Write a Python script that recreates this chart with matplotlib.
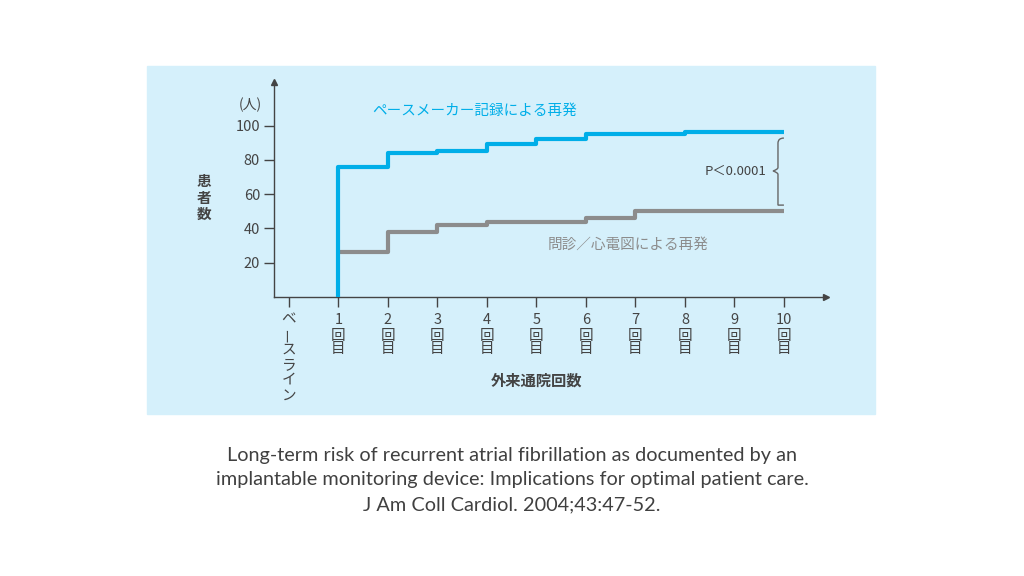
import matplotlib.pyplot as plt
from matplotlib.patches import Rectangle, PathPatch
from matplotlib.path import Path

plt.rcParams['font.family'] = ['Noto Sans CJK JP', 'DejaVu Sans']

# data
visits = [1, 2, 3, 4, 5, 6, 7, 8, 9, 10]
pacemaker = [76, 84, 85, 89, 92, 95, 95, 96, 96, 96]
interview_ecg = [26, 38, 42, 44, 44, 46, 50, 50, 50, 50]
y_ticks = [20, 40, 60, 80, 100]
x_tick_nums = ['1', '2', '3', '4', '5', '6', '7', '8', '9', '10']
baseline_label = ['ベ', 'ー', 'ス', 'ラ', 'イ', 'ン']
caption = ['Long-term risk of recurrent atrial fibrillation as documented by an',
           'implantable monitoring device: Implications for optimal patient care.',
           'J Am Coll Cardiol. 2004;43:47-52.']

blue = '#00aee8'
gray = '#8c8c8c'
dark = '#444444'

fig = plt.figure(figsize=(10.24, 5.76), dpi=100)
fig.patches.append(Rectangle((147/1024, 1-414/576), 728/1024, 348/576,
                             transform=fig.transFigure, color='#d5f0fb', zorder=-5))

ax = fig.add_axes([274/1024, 1-297/576, 552/1024, 215/576])
ax.set_zorder(2)
ax.set_facecolor('none')
ax.set_xlim(-0.3, 10.85)
ax.set_ylim(0, 125.4)
for s in ['top', 'right']:
    ax.spines[s].set_visible(False)
for s in ['left', 'bottom']:
    ax.spines[s].set_color(dark)
    ax.spines[s].set_linewidth(1)
ax.plot(1, 0, '>', color=dark, ms=5, transform=ax.transAxes, clip_on=False)
ax.plot(0, 1, '^', color=dark, ms=5, transform=ax.transAxes, clip_on=False)

# step lines
ax.plot([1] + visits, [0] + pacemaker, drawstyle='steps-post', color=blue, lw=3.0,
        solid_capstyle='butt', zorder=3)
ax.plot(visits, interview_ecg, drawstyle='steps-post', color=gray, lw=3.0,
        solid_capstyle='butt', zorder=2)

# y axis
ax.set_yticks(y_ticks)
ax.set_yticklabels([str(v) for v in y_ticks], fontsize=10.5, color=dark)
ax.tick_params(axis='y', direction='out', length=7, width=1, color=dark, pad=3)
ax.text(-0.78, 112, '(人)', fontsize=10, color=dark, ha='center', va='center', clip_on=False)
ax.text(-1.72, 58, '患\n者\n数', fontsize=10.5, fontweight='bold', color=dark,
        ha='center', va='center', linespacing=1.05, clip_on=False)

# x axis
ax.set_xticks(range(0, 11))
ax.set_xticklabels([])
ax.tick_params(axis='x', direction='out', length=7, width=1, color=dark)
for i, n in enumerate(x_tick_nums):
    x = i + 1
    ax.text(x, -13.6, n, fontsize=10.5, color=dark, ha='center', va='center', clip_on=False)
    ax.text(x, -22.6, '回', fontsize=10.5, color=dark, ha='center', va='center', clip_on=False)
    ax.text(x, -30.2, '目', fontsize=10.5, color=dark, ha='center', va='center', clip_on=False)
for j, ch in enumerate(baseline_label):
    ax.text(0, -12.8 - j * 8.9, ch, fontsize=10.5, color=dark, ha='center', va='center',
            rotation=90 if ch == 'ー' else 0, clip_on=False)
ax.text(5, -48.5, '外来通院回数', fontsize=11, fontweight='bold', color=dark,
        ha='center', va='center', clip_on=False)

# annotations
ax.text(1.68, 108.5, 'ペースメーカー記録による再発', fontsize=10.5, color=blue,
        ha='left', va='center')
ax.text(5.22, 30.5, '問診／心電図による再発', fontsize=10.5, color=gray, ha='left', va='center')
ax.text(9.65, 73.5, 'P＜0.0001', fontsize=9.5, color=dark, ha='right', va='center')

# brace
bx, tip, ex = 9.88, 9.78, 10.0
top, mid, bot = 92.7, 73.5, 53.6
verts = [(ex, top), (bx, top), (bx, top - 3), (bx, top - 6),
         (bx, mid + 2), (bx, mid + 1), (tip, mid),
         (bx, mid - 1), (bx, mid - 2), (bx, bot + 6),
         (bx, bot + 3), (bx, bot), (ex, bot)]
codes = [Path.MOVETO, Path.CURVE3, Path.CURVE3, Path.LINETO,
         Path.LINETO, Path.CURVE3, Path.CURVE3,
         Path.CURVE3, Path.CURVE3, Path.LINETO,
         Path.CURVE3, Path.CURVE3, Path.LINETO]
ax.add_patch(PathPatch(Path(verts, codes), fill=False, edgecolor='#666666', lw=1, clip_on=False))

# caption
for k, line in enumerate(caption):
    fig.text(0.5, 1 - (455 + 25 * k) / 576, line, family=['Lato', 'DejaVu Sans'],
             fontsize=14.3, color='#404040', ha='center', va='center')

fig.savefig('out.png', dpi=100)
